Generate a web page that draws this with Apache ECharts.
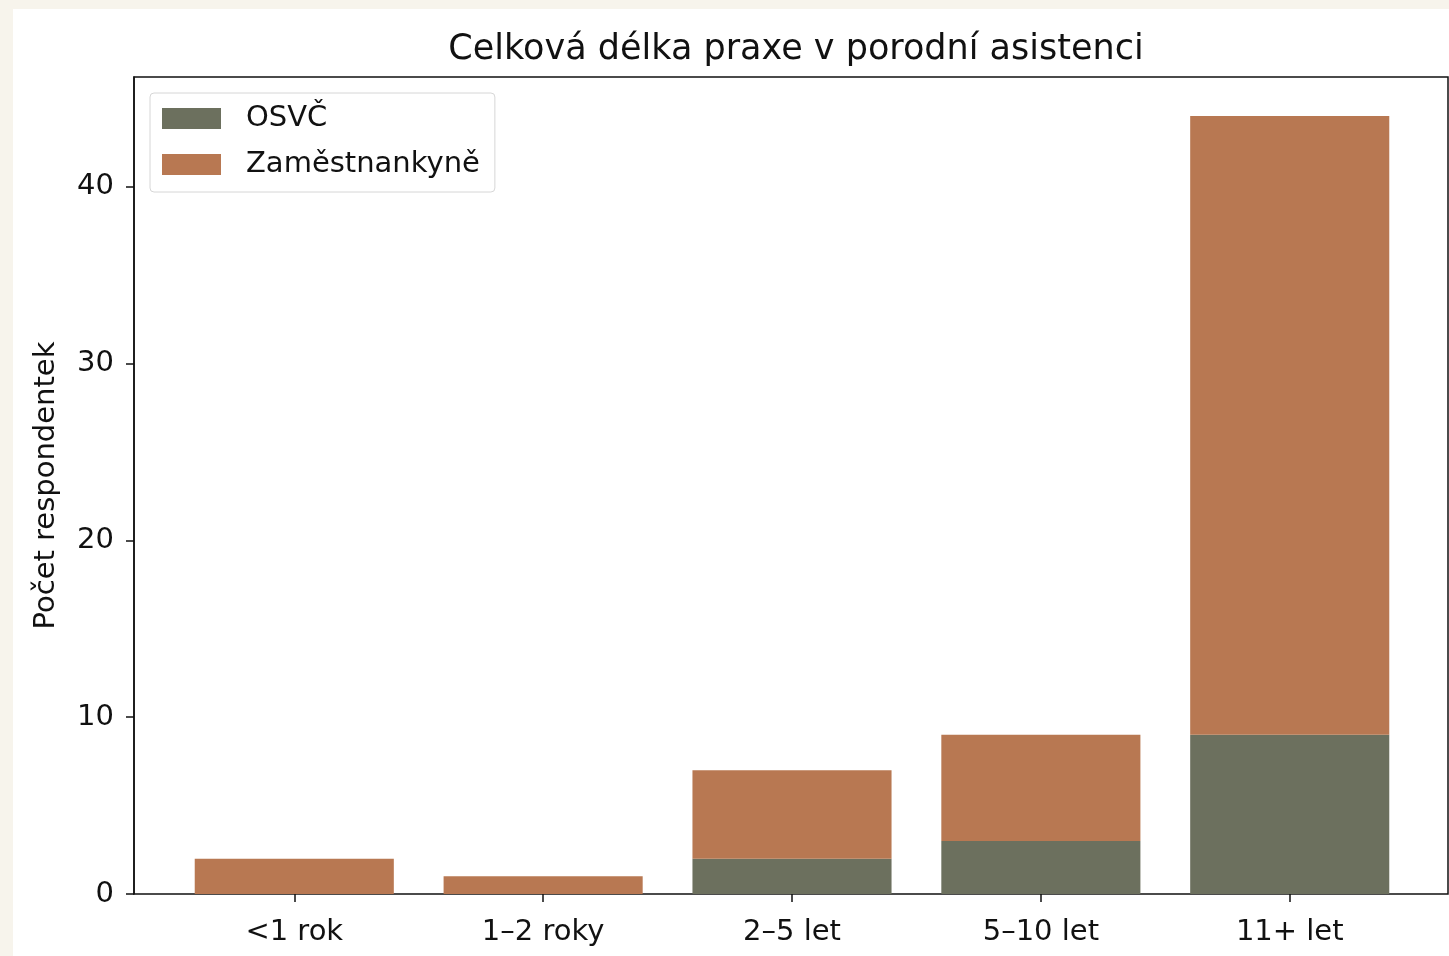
<!DOCTYPE html>
<html>
<head>
<meta charset="utf-8">
<script src="https://cdn.jsdelivr.net/npm/echarts@6/dist/echarts.min.js"></script>
<style>
  html, body { margin: 0; padding: 0; background: #f7f4ec; }
  #chart { position: absolute; left: 13px; top: 9px; width: 1436px; height: 947px; background: #fff; }
</style>
</head>
<body>
<div id="chart"></div>
<script>
// data
const categories = ['<1 rok', '1–2 roky', '2–5 let', '5–10 let', '11+ let']
const osvc = [0, 0, 2, 3, 9]
const zamestnankyne = [2, 1, 5, 6, 35]
const yTicks = [0, 10, 20, 30, 40]
const yMax = 46.2

const font = 'DejaVu Sans'
const chart = echarts.init(document.getElementById('chart'))

// frame grid spans x from -0.64 to 4.64 (matplotlib margins), bars grid spans the 5 category bands
const frame = { left: 121, right: 1, top: 68, bottom: 62 }
const unit = (1436 - frame.left - frame.right) / 5.28
const barsLeft = frame.left + 0.14 * unit + 1
const barsRight = 1436 - barsLeft - 5 * unit

chart.setOption({
  animation: false,
  textStyle: { fontFamily: font },
  title: {
    text: 'Celková délka praxe v porodní asistenci',
    left: 778,
    textAlign: 'center',
    top: 18,
    textStyle: { fontFamily: font, fontSize: 35, fontWeight: 'normal', color: '#111' }
  },
  legend: {
    orient: 'vertical',
    left: 137,
    top: 84,
    padding: [11, 15, 13, 12],
    itemWidth: 59,
    itemHeight: 21,
    itemGap: 17,
    borderColor: '#d6d6d6',
    borderWidth: 1,
    borderRadius: 4,
    backgroundColor: '#fff',
    icon: 'rect',
    textStyle: { fontFamily: font, fontSize: 29, color: '#111', padding: [0, 0, 0, 20] },
    data: ['OSVČ', 'Zaměstnankyně']
  },
  grid: [
    Object.assign({ show: true, borderColor: '#111', borderWidth: 1.5 }, frame),
    { left: barsLeft, right: barsRight, top: frame.top, bottom: frame.bottom }
  ],
  xAxis: [
    {
      gridIndex: 0,
      type: 'value',
      min: -0.64,
      max: 4.64,
      show: false
    },
    {
      gridIndex: 1,
      type: 'category',
      data: categories,
      axisLine: { show: false },
      axisTick: { show: true, alignWithLabel: true, length: 8, lineStyle: { color: '#111', width: 1.5 } },
      axisLabel: { fontSize: 29, color: '#111', margin: 24 }
    }
  ],
  yAxis: [
    {
      gridIndex: 0,
      type: 'value',
      min: 0,
      max: yMax,
      name: 'Počet respondentek',
      nameLocation: 'middle',
      nameRotate: 90,
      nameGap: 73,
      nameTextStyle: { fontFamily: font, fontSize: 29, color: '#111' },
      splitLine: { show: false },
      axisLine: { show: true, onZero: false, lineStyle: { color: '#111', width: 1.5 } },
      axisTick: { show: true, length: 8, customValues: yTicks, lineStyle: { color: '#111', width: 1.5 } },
      axisLabel: { customValues: yTicks, fontSize: 29, color: '#111', margin: 20 }
    },
    {
      gridIndex: 1,
      type: 'value',
      min: 0,
      max: yMax,
      show: false
    }
  ],
  series: [
    {
      name: 'OSVČ',
      type: 'bar',
      xAxisIndex: 1,
      yAxisIndex: 1,
      stack: 'total',
      barWidth: '80%',
      itemStyle: { color: '#6c705e' },
      data: osvc
    },
    {
      name: 'Zaměstnankyně',
      type: 'bar',
      xAxisIndex: 1,
      yAxisIndex: 1,
      stack: 'total',
      barWidth: '80%',
      itemStyle: { color: '#b87852' },
      data: zamestnankyne
    }
  ]
})
</script>
</body>
</html>
